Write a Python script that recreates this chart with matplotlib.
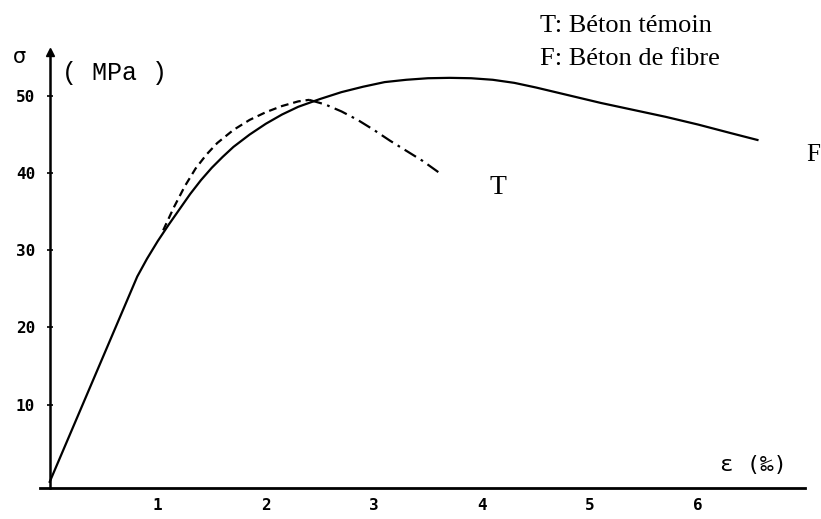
import matplotlib
matplotlib.use("Agg")
import matplotlib.pyplot as plt

# strain (per mille) / stress (MPa)
f_strain = [0.0, 0.81, 0.90, 1.0, 1.1, 1.2, 1.3, 1.4, 1.5, 1.6, 1.7, 1.85, 2.0, 2.15, 2.3,
            2.5, 2.7, 2.9, 3.1, 3.3, 3.5, 3.7, 3.9, 4.1, 4.3, 4.5, 4.8, 5.1, 5.4, 5.7, 6.0, 6.3, 6.55]
f_stress = [0.0, 26.6, 28.9, 31.2, 33.3, 35.3, 37.3, 39.1, 40.7, 42.1, 43.4, 45.0, 46.4, 47.6, 48.6,
            49.6, 50.5, 51.2, 51.8, 52.1, 52.3, 52.35, 52.3, 52.1, 51.7, 51.1, 50.1, 49.1, 48.2, 47.3, 46.3, 45.2, 44.3]

t_strain_rise = [1.05, 1.15, 1.25, 1.35, 1.45, 1.55, 1.7, 1.85, 2.0, 2.15, 2.3, 2.4]
t_stress_rise = [32.6, 35.6, 38.3, 40.6, 42.4, 43.9, 45.6, 46.9, 47.9, 48.7, 49.3, 49.5]
t_strain_fall = [2.4, 2.55, 2.7, 2.85, 3.0, 3.15, 3.3, 3.45, 3.61]
t_stress_fall = [49.5, 48.9, 48.0, 46.9, 45.6, 44.2, 42.9, 41.6, 40.0]

yticks = [10, 20, 30, 40, 50]
xticks = [1, 2, 3, 4, 5, 6]

W, H = 821, 519
fig = plt.figure(figsize=(W / 100, H / 100), dpi=100)
ax = fig.add_axes([40 / W, (H - 488) / H, 765 / W, (488 - 52) / H])

ax.plot(f_strain, f_stress, color="black", lw=1.6)
ax.plot(t_strain_rise, t_stress_rise, color="black", lw=1.6, dashes=(3.5, 2.2))
ax.plot(t_strain_fall, t_stress_fall, color="black", lw=1.6, dashes=(6, 2.5, 1.2, 2.5))

ax.set_xlim(-0.09, 6.99)
ax.set_ylim(-0.8, 55.7)

for s in ["top", "right"]:
    ax.spines[s].set_visible(False)
ax.spines["left"].set_position(("data", 0))
ax.spines["left"].set_linewidth(1.8)
ax.spines["bottom"].set_linewidth(2.0)
ax.plot(0, 1, marker="^", color="black", markersize=6, transform=ax.get_xaxis_transform(), clip_on=False)

tick_font = dict(family="DejaVu Sans Mono", weight="bold", size=11.5)
ax.set_yticks(yticks)
ax.set_yticklabels([str(v) for v in yticks], fontdict=tick_font)
ax.set_xticks(xticks)
ax.set_xticklabels([str(v) for v in xticks], fontdict=tick_font)
ax.tick_params(axis="y", direction="inout", length=5, width=1.2, pad=8)
ax.tick_params(axis="x", length=0, pad=7)

ax.text(4.15, 38.1, "T", family="Liberation Serif", fontsize=20, ha="center", va="center")
ax.text(7.0, 42.4, "F", family="Liberation Serif", fontsize=18, ha="left", va="center", clip_on=False)
ax.text(6.2, 0.9, "ε (‰)", family="DejaVu Sans Mono", fontsize=16, ha="left", va="bottom")

fig.text(13 / W, 1 - 63 / H, "σ", fontsize=15, ha="left", va="baseline")
fig.text(62 / W, 1 - 80 / H, "( MPa )", family="Liberation Mono", fontsize=18, ha="left", va="baseline")

fig.text(540 / W, 1 - 32 / H, "T: Béton témoin", family="Liberation Serif", fontsize=19, ha="left", va="baseline")
fig.text(540 / W, 1 - 65 / H, "F: Béton de fibre", family="Liberation Serif", fontsize=19, ha="left", va="baseline")

fig.savefig("out.png", dpi=100)
